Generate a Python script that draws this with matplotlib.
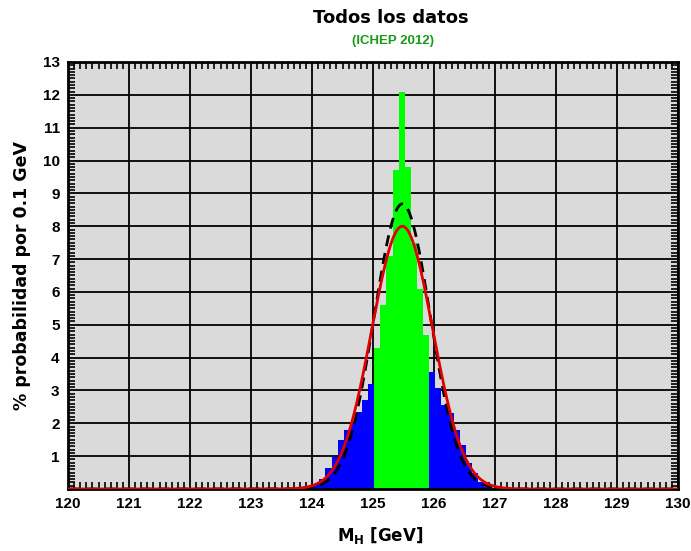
import numpy as np
import matplotlib
matplotlib.use('Agg')
from matplotlib import pyplot as plt
from matplotlib.ticker import MultipleLocator

# data: histogram of the Higgs mass, % per 0.1 GeV bin
BIN_WIDTH = 0.1
blue_left_edges = [123.92, 124.02, 124.12, 124.22, 124.32, 124.42,
                   124.52, 124.62, 124.72, 124.82, 124.92]
blue_left_vals = [0.05, 0.15, 0.3, 0.63, 0.98, 1.5, 1.8, 2.05, 2.35, 2.7, 3.2]

green_edges = [125.02, 125.12, 125.22, 125.32, 125.42,
               125.52, 125.62, 125.72, 125.82]
green_vals = [4.3, 5.6, 7.1, 9.7, 12.1, 9.8, 7.5, 6.1, 4.7]

blue_right_edges = [125.92, 126.02, 126.12, 126.22, 126.32,
                    126.42, 126.52, 126.62, 126.72, 126.82]
blue_right_vals = [3.57, 3.07, 2.56, 2.3, 1.8, 1.35, 0.8, 0.48, 0.22, 0.07]

# gaussian fits: (mean, sigma, peak)
fit_red = (125.48, 0.5, 8.0)
fit_black = (125.48, 0.46, 8.68)

x_ticks = [120, 121, 122, 123, 124, 125, 126, 127, 128, 129, 130]
y_ticks = [1, 2, 3, 4, 5, 6, 7, 8, 9, 10, 11, 12, 13]

# plot
fig = plt.figure(figsize=(6.91, 5.51), dpi=100)
ax = fig.add_axes([68 / 691, 1 - 489 / 551, 610 / 691, 427 / 551])
ax.set_facecolor('#dadada')

ax.bar(blue_left_edges, blue_left_vals, width=BIN_WIDTH, align='edge',
       color='#0000ff', linewidth=0, zorder=2)
ax.bar(green_edges, green_vals, width=BIN_WIDTH, align='edge',
       color='#00ff00', linewidth=0, zorder=2)
ax.bar(blue_right_edges, blue_right_vals, width=BIN_WIDTH, align='edge',
       color='#0000ff', linewidth=0, zorder=2)

xs = np.linspace(120, 130, 2001)
mu, sig, peak = fit_black
ax.plot(xs, peak * np.exp(-0.5 * ((xs - mu) / sig) ** 2), color='black',
        lw=2, ls=(0, (4, 2.5)), zorder=3)
mu, sig, peak = fit_red
ax.plot(xs, peak * np.exp(-0.5 * ((xs - mu) / sig) ** 2), color='#e00000',
        lw=2, zorder=4)

ax.set_xlim(120, 130)
ax.set_ylim(0, 13)
ax.set_xticks(x_ticks)
ax.set_yticks(y_ticks)
ax.xaxis.set_minor_locator(MultipleLocator(0.1))
ax.yaxis.set_minor_locator(MultipleLocator(0.1))
ax.grid(True, which='major', color='black', lw=1.3, zorder=1)
ax.set_axisbelow(True)
ax.tick_params(which='both', direction='in', top=True, right=True,
               labelsize=11, pad=6)
ax.tick_params(which='major', length=0)
ax.tick_params(which='minor', length=5, width=1.2, color='black')
for lbl in ax.get_xticklabels() + ax.get_yticklabels():
    lbl.set_fontweight('bold')
    lbl.set_family('Liberation Sans')
for sp in ax.spines.values():
    sp.set_linewidth(2)

fig.text(391 / 691, 1 - 18 / 551, 'Todos los datos', ha='center', va='center',
         fontsize=13, fontweight='bold')
fig.text(393 / 691, 1 - 41 / 551, '(ICHEP 2012)', ha='center', va='center',
         fontsize=9.5, fontweight='bold', color='#1a9a1a',
         family='Liberation Sans')
fig.text(380 / 691, 1 - 536 / 551, r'M$_\mathbf{H}$ [GeV]', ha='center',
         va='center', fontsize=12, fontweight='bold')
fig.text(22 / 691, 1 - 275 / 551, '% probabilidad por 0.1 GeV', ha='center',
         va='center', rotation=90, fontsize=12.5, fontweight='bold')

fig.savefig('out.png', dpi=100)
